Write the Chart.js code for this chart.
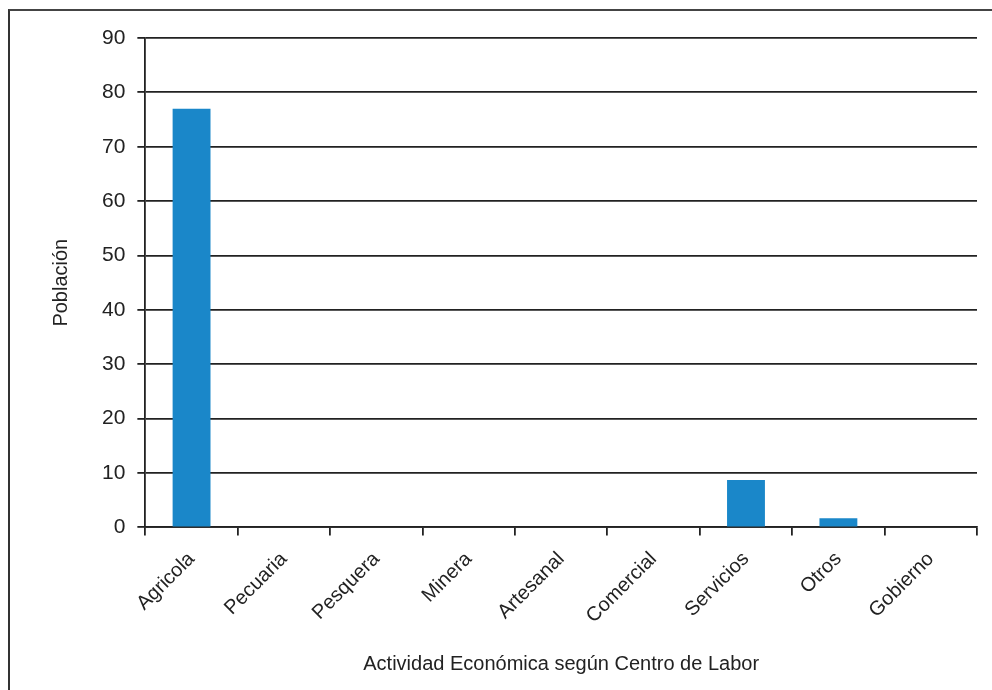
<!DOCTYPE html>
<html>
<head>
<meta charset="utf-8">
<script src="https://cdn.jsdelivr.net/npm/chart.js@4"></script>
<style>
    html, body { margin: 0; padding: 0; background: #fff; }
    #wrap { position: relative; width: 992px; height: 690px; }
    #frame {
        position: absolute; left: 8px; top: 9px; width: 990px; height: 690px;
        border-left: 2px solid #333; border-top: 2px solid #444;
        box-sizing: border-box;
    }
    canvas { position: absolute; left: 0; top: 0; }
</style>
</head>
<body>
<div id="wrap">
    <div id="frame"></div>
    <canvas id="actChart" width="992" height="690"></canvas>
</div>
<script>
// Población por actividad económica
const categorias = ['Agricola', 'Pecuaria', 'Pesquera', 'Minera', 'Artesanal', 'Comercial', 'Servicios', 'Otros', 'Gobierno'];
const poblacion = [77, 0, 0, 0, 0, 0, 8.7, 1.7, 0];
const ticksY = [0, 10, 20, 30, 40, 50, 60, 70, 80, 90];

const UI = {
    TITLE_X: 'Actividad Económica según Centro de Labor',
    TITLE_Y: 'Población',
    BAR_COLOR: '#1a87c9',
    TEXT_COLOR: '#222',
    FONT: 'Liberation Sans, Arial, sans-serif'
};

const ctx = document.getElementById('actChart').getContext('2d');
const chart = new Chart(ctx, {
    type: 'bar',
    data: {
        labels: categorias,
        datasets: [{
            data: poblacion,
            backgroundColor: UI.BAR_COLOR,
            borderWidth: 0,
            categoryPercentage: 0.41,
            barPercentage: 1
        }]
    },
    options: {
        responsive: false,
        animation: false,
        layout: { padding: { left: 49, right: 15, top: 38, bottom: 14 } },
        plugins: {
            legend: { display: false },
            tooltip: { enabled: false }
        },
        scales: {
            x: {
                offset: true,
                grid: {
                    offset: true,
                    drawOnChartArea: false,
                    drawTicks: true,
                    tickLength: 8,
                    color: '#222',
                    lineWidth: 1.8
                },
                border: { color: '#222', width: 1.8 },
                ticks: {
                    color: UI.TEXT_COLOR,
                    font: { family: UI.FONT, size: 20 },
                    minRotation: 45,
                    maxRotation: 45,
                    padding: 12
                },
                title: {
                    display: true,
                    text: UI.TITLE_X,
                    color: UI.TEXT_COLOR,
                    font: { family: UI.FONT, size: 20 },
                    padding: { top: 12, bottom: 0 }
                }
            },
            y: {
                min: 0,
                max: 90,
                afterBuildTicks: axis => { axis.ticks = ticksY.map(v => ({ value: v })); },
                grid: {
                    color: '#222',
                    lineWidth: 1.8,
                    tickLength: 8
                },
                border: { color: '#222', width: 1.8 },
                ticks: {
                    color: UI.TEXT_COLOR,
                    font: { family: UI.FONT, size: 21 },
                    padding: 12
                },
                title: {
                    display: true,
                    text: UI.TITLE_Y,
                    color: UI.TEXT_COLOR,
                    font: { family: UI.FONT, size: 20 },
                    padding: { top: 0, bottom: 17 }
                }
            }
        }
    }
});
</script>
</body>
</html>
